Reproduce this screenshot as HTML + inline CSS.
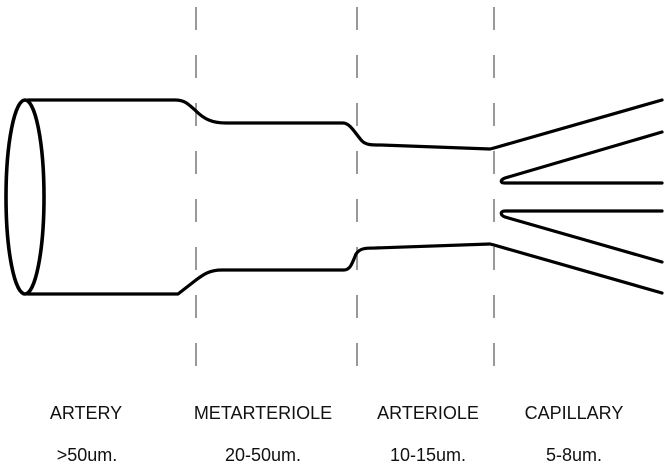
<!DOCTYPE html>
<html><head><style>
html,body{margin:0;padding:0;background:#fff;}
svg{display:block;}
text{font-family:"Liberation Sans",sans-serif;font-size:18px;fill:#111;text-anchor:middle;}
</style></head><body>
<svg width="666" height="465" viewBox="0 0 666 465" xmlns="http://www.w3.org/2000/svg">
<g stroke="#999" stroke-width="2" stroke-dasharray="23 25" stroke-dashoffset="-1">
<line x1="196" y1="6" x2="196" y2="366"/>
<line x1="357" y1="6" x2="357" y2="366"/>
<line x1="494" y1="6" x2="494" y2="366"/>
</g>
<g fill="none" stroke="#000" stroke-width="3.2" stroke-linejoin="round" stroke-linecap="round">
<ellipse cx="25" cy="197" rx="19" ry="97" stroke-width="3.6"/>
<path d="M28 100 L175 100 C185 100 188 104 196 111 C204 119 212 123 226 123 L343 123 C350 123 355 133 362 141 C366 145 372 145 380 145 L490 149 L494 148"/>
<path d="M28 294 L178 294 L196 280 C204 274 210 270 222 270 L344 270 C350 270 352 264 356 254 C360 248 366 248 375 248 L490 244 L494 245"/>
<path d="M494 148 L662 100"/>
<path d="M662 132 L505 178 C500 180 500 183 505 183 L662 183"/>
<path d="M662 211 L505 211 C500 211 500 215 505 217 L662 262"/>
<path d="M494 245 L662 293"/>
</g>
<text x="86" y="419">ARTERY</text>
<text x="263" y="419">METARTERIOLE</text>
<text x="428" y="419">ARTERIOLE</text>
<text x="574" y="419">CAPILLARY</text>
<text x="87" y="461">&gt;50um.</text>
<text x="263" y="461">20-50um.</text>
<text x="428" y="461">10-15um.</text>
<text x="574" y="461">5-8um.</text>
</svg>
</body></html>
